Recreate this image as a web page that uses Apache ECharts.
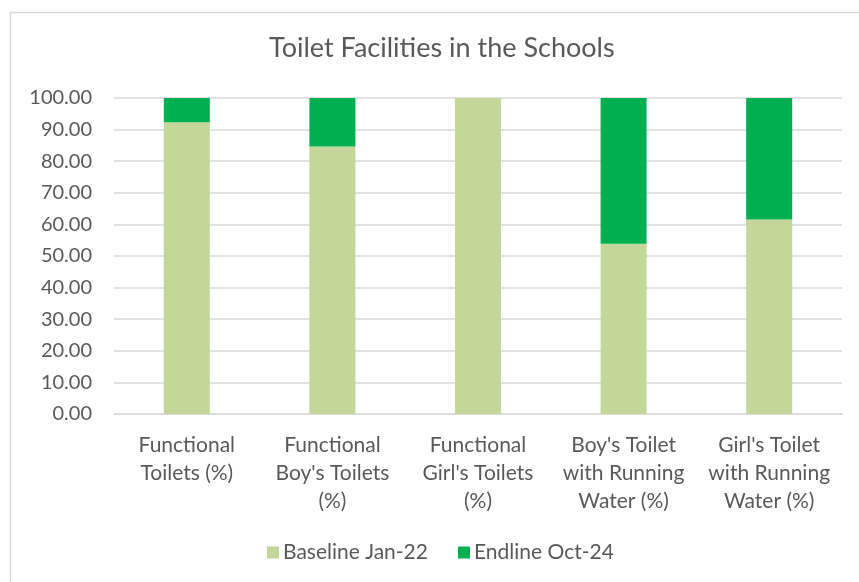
<!DOCTYPE html>
<html>
<head>
<meta charset="utf-8">
<script src="https://cdn.jsdelivr.net/npm/echarts@6/dist/echarts.min.js"></script>
<style>
  html, body { margin: 0; padding: 0; background: #ffffff; }
  #chart { width: 859px; height: 582px; }
</style>
</head>
<body>
<div id="chart"></div>
<script>
// Toilet facility indicators, percentage of schools
const categories = [
  "Functional\nToilets (%)",
  "Functional\nBoy's Toilets\n(%)",
  "Functional\nGirl's Toilets\n(%)",
  "Boy's Toilet\nwith Running\nWater (%)",
  "Girl's Toilet\nwith Running\nWater (%)"
];
const baselineJan22 = [92.31, 84.62, 100.00, 53.85, 61.54];
const endlineOct24 = [7.69, 15.38, 0.00, 46.15, 38.46];
const yTicks = { min: 0, max: 100, interval: 10 };

const textColor = '#595959';
const gridColor = '#d9d9d9';
const fontFamily = 'Lato, "Open Sans", sans-serif';

const chart = echarts.init(document.getElementById('chart'), null, { renderer: 'canvas' });

chart.setOption({
  backgroundColor: '#ffffff',
  animation: false,
  textStyle: { fontFamily: fontFamily, color: textColor },
  title: {
    text: 'Toilet Facilities in the Schools',
    left: 264,
    top: 30,
    textStyle: { fontFamily: fontFamily, fontSize: 27, fontWeight: 'normal', color: textColor }
  },
  legend: {
    bottom: 14,
    left: 262,
    itemWidth: 12,
    itemHeight: 12,
    itemGap: 30,
    icon: 'rect',
    textStyle: { fontFamily: fontFamily, fontSize: 21, color: textColor, padding: [0, 0, 0, -1] },
    data: ['Baseline Jan-22', 'Endline Oct-24']
  },
  grid: { left: 114, right: 17, top: 98, bottom: 168, containLabel: false },
  xAxis: {
    type: 'category',
    data: categories,
    axisLine: { show: true, lineStyle: { color: gridColor, width: 1.5 } },
    axisTick: { show: false },
    axisLabel: {
      interval: 0,
      margin: 17,
      fontFamily: fontFamily,
      fontSize: 21,
      lineHeight: 28,
      color: textColor,
      align: 'center',
      verticalAlign: 'top'
    }
  },
  yAxis: {
    type: 'value',
    min: yTicks.min,
    max: yTicks.max,
    interval: yTicks.interval,
    axisLine: { show: false },
    axisTick: { show: false },
    splitLine: { lineStyle: { color: gridColor, width: 1.5 } },
    axisLabel: {
      margin: 22,
      fontFamily: fontFamily,
      fontSize: 20,
      color: textColor,
      formatter: v => v.toFixed(2)
    }
  },
  series: [
    {
      name: 'Baseline Jan-22',
      type: 'bar',
      stack: 'total',
      barWidth: 46,
      itemStyle: { color: '#c4d79b' },
      data: baselineJan22
    },
    {
      name: 'Endline Oct-24',
      type: 'bar',
      stack: 'total',
      barWidth: 46,
      itemStyle: { color: '#00b050' },
      data: endlineOct24
    }
  ],
  graphic: [
    {
      type: 'rect',
      shape: { x: 10.5, y: 12.5, width: 900, height: 620 },
      style: { fill: 'none', stroke: gridColor, lineWidth: 1.5 },
      silent: true
    }
  ]
});
</script>
</body>
</html>
